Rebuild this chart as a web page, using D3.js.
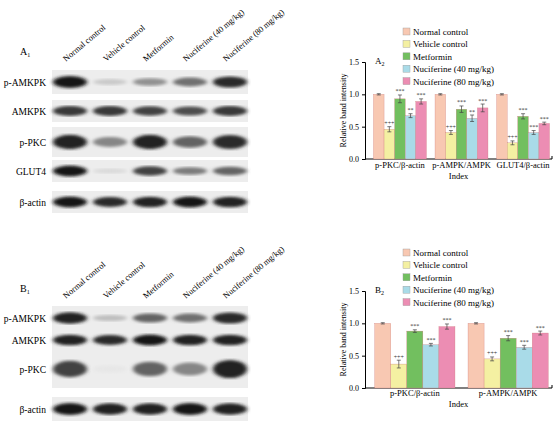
<!DOCTYPE html><html><head><meta charset="utf-8">
<script src="https://cdn.jsdelivr.net/npm/d3@7"></script>
<style>body{margin:0;background:#fff}text{font-family:"Liberation Serif","Times New Roman",serif}</style></head><body>
<script>
const groups=["Normal control","Vehicle control","Metformin","Nuciferine (40 mg/kg)","Nuciferine (80 mg/kg)"];
const colors=["#f8c8b2","#f4f0a2","#72bf5f","#a9dbe8","#ec8db3"];
const catsA=["p-PKC/β-actin","p-AMPK/AMPK","GLUT4/β-actin"];
const valsA=[[1,0.46,0.93,0.67,0.89],[1,0.41,0.77,0.63,0.79],[1,0.25,0.66,0.41,0.55]];
const errA=[[0.01,0.04,0.06,0.03,0.04],[0.01,0.03,0.05,0.05,0.06],[0.01,0.03,0.04,0.03,0.02]];
const sigA=[["","+++","***","**","***"],["","+++","***","**","***"],["","+++","***","***","***"]];
const catsB=["p-PKC/β-actin","p-AMPK/AMPK"];
const valsB=[[1,0.37,0.88,0.67,0.95],[1,0.45,0.77,0.63,0.85]];
const errB=[[0.01,0.06,0.02,0.02,0.04],[0.01,0.03,0.04,0.03,0.03]];
const sigB=[["","+++","***","***","***"],["","+++","***","***","***"]];
const yTicks=[0,0.5,1.0,1.5];
const blotRowsA=["p-AMKPK","AMKPK","p-PKC","GLUT4","β-actin"];
const blotA=[[0.95,0.15,0.4,0.55,0.85],[0.8,0.8,0.75,0.7,0.8],[0.9,0.45,0.9,0.6,0.85],[0.95,0.08,0.75,0.5,0.6],[0.95,0.85,0.9,0.95,0.9]];
const blotRowsB=["p-AMKPK","AMKPK","p-PKC","β-actin"];
const blotB=[[0.9,0.2,0.6,0.55,0.85],[0.9,0.85,0.95,0.9,0.9],[0.75,0.02,0.6,0.45,0.9],[0.95,0.9,0.9,0.95,0.9]];

const svg=d3.select("body").append("svg").attr("width",553).attr("height",422);
const defs=svg.append("defs");
defs.append("filter").attr("id","blur").append("feGaussianBlur").attr("stdDeviation","2.2 1.4");

function blot(x0,rows,data,rowY,rowH,labelY,panel,py){
  svg.append("text").attr("x",x0-32).attr("y",py).attr("font-size",10).text(panel[0]).append("tspan").attr("font-size",6).attr("dy",2).text("1");
  const lx=d3.scalePoint().domain(groups).range([x0+18,x0+178]);
  groups.forEach(g=>svg.append("text").attr("transform",`translate(${lx(g)-4},${labelY}) rotate(-40)`).attr("font-size",8.5).text(g));
  rows.forEach((r,i)=>{
    const cy=rowY[i],h=rowH[i];
    svg.append("rect").attr("x",x0).attr("y",cy-h/2).attr("width",196).attr("height",h).attr("fill","#ededed");
    svg.append("text").attr("x",x0-6).attr("y",cy+3.5).attr("text-anchor","end").attr("font-size",9.5).text(r);
    data[i].forEach((v,j)=>{
      const c=Math.round(235-v*225);
      svg.append("ellipse").attr("cx",lx(groups[j])).attr("cy",cy).attr("rx",17).attr("ry",Math.max(1.5,h*0.16*(0.6+v)))
        .attr("fill",`rgb(${c},${c},${c})`).attr("filter","url(#blur)");
    });
  });
}
blot(52,blotRowsA,blotA,[82,111,142,171,202],[24,22,30,22,22],62,"A",55);
blot(52,blotRowsB,blotB,[318,340,369,409],[24,22,38,24],299,"B",292);

function bars(cats,vals,errs,sigs,x0,x1,y0,y1,legY,xlabY,panel){
  const g=svg.append("g");
  const y=d3.scaleLinear().domain([0,1.5]).range([y0,y1]);
  const x=d3.scaleBand().domain(cats).range([x0+6,x1]).paddingInner(0.14).paddingOuter(0.04);
  const xb=d3.scaleBand().domain(groups).range([0,x.bandwidth()]);
  g.append("g").attr("transform",`translate(${x0},0)`).call(d3.axisLeft(y).tickValues(yTicks).tickFormat(d3.format(".1f")).tickSize(3))
   .call(a=>a.selectAll("text").attr("font-size",8).attr("font-family","Liberation Serif"));
  g.append("line").attr("x1",x0).attr("x2",x1).attr("y1",y0).attr("y2",y0).attr("stroke","#000");
  g.append("line").attr("x1",x1).attr("x2",x1).attr("y1",y0).attr("y2",y0-3).attr("stroke","#000");
  g.append("text").attr("transform",`translate(${x0-19},${(y0+y1)/2}) rotate(-90)`).attr("text-anchor","middle").attr("font-size",8).text("Relative band intensity");
  g.append("text").attr("x",x0+10).attr("y",y1+2).attr("font-size",9).text(panel).append("tspan").attr("font-size",6).attr("dy",2).text("2");
  cats.forEach((c,i)=>{
    groups.forEach((gr,j)=>{
      const bx=x(c)+xb(gr),w=xb.bandwidth(),v=vals[i][j],e=errs[i][j];
      g.append("rect").attr("x",bx).attr("y",y(v)).attr("width",w).attr("height",y0-y(v)).attr("fill",colors[j]).attr("stroke","#c77").attr("stroke-width",0.3);
      const cx=bx+w/2;
      g.append("line").attr("x1",cx).attr("x2",cx).attr("y1",y(v+e)).attr("y2",y(v-e)).attr("stroke","#444").attr("stroke-width",0.7);
      [v+e,v-e].forEach(t=>g.append("line").attr("x1",cx-2).attr("x2",cx+2).attr("y1",y(t)).attr("y2",y(t)).attr("stroke","#444").attr("stroke-width",0.7));
      if(sigs[i][j]) g.append("text").attr("x",cx).attr("y",y(v+e)-1.5).attr("text-anchor","middle").attr("font-size",6).attr("fill","#333").text(sigs[i][j]);
    });
    g.append("text").attr("x",x(c)+x.bandwidth()/2).attr("y",xlabY).attr("text-anchor","middle").attr("font-size",8.5).text(c);
  });
  g.append("text").attr("x",(x0+x1)/2).attr("y",xlabY+11).attr("text-anchor","middle").attr("font-size",8.5).text("Index");
  groups.forEach((gr,j)=>{
    g.append("rect").attr("x",403).attr("y",legY+j*12.4-4).attr("width",7).attr("height",7).attr("fill",colors[j]).attr("stroke","#999").attr("stroke-width",0.4);
    g.append("text").attr("x",413).attr("y",legY+j*12.4+3).attr("font-size",9).text(gr);
  });
}
bars(catsA,valsA,errA,sigA,365,552,159,62,32,168,"A");
bars(catsB,valsB,errB,sigB,365,552,388,291,253,396,"B");
</script></body></html>
